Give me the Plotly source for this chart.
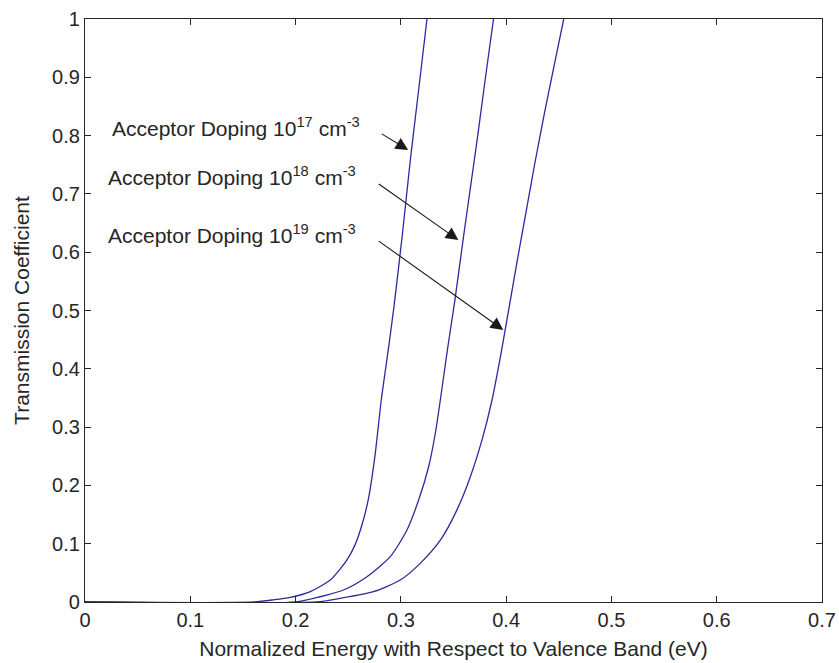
import plotly.graph_objects as go

# Data
x_1e17 = [0.00, 0.16, 0.18, 0.195, 0.2044, 0.2139, 0.2329, 0.2487, 0.2565, 0.2635, 0.2695, 0.2757, 0.2814, 0.288, 0.2937, 0.3014, 0.309, 0.317, 0.3248]
y_1e17 = [0.0, 0.0, 0.004, 0.008, 0.012, 0.0177, 0.0377, 0.072, 0.098, 0.135, 0.18, 0.255, 0.3465, 0.432, 0.51, 0.63, 0.758, 0.88, 1.0]

x_1e18 = [0.00, 0.20, 0.2234, 0.2455, 0.2678, 0.2899, 0.3058, 0.3169, 0.3264, 0.3327, 0.3375, 0.344, 0.3515, 0.359, 0.366, 0.373, 0.380, 0.388]
y_1e18 = [0.0, 0.0, 0.009, 0.0206, 0.0434, 0.0777, 0.1235, 0.175, 0.232, 0.289, 0.3465, 0.43, 0.52, 0.62, 0.71, 0.80, 0.895, 1.0]

x_1e19 = [0.00, 0.22, 0.2424, 0.274, 0.2994, 0.3184, 0.3375, 0.3533, 0.366, 0.3771, 0.3866, 0.3945, 0.4024, 0.410, 0.4185, 0.427, 0.436, 0.445, 0.4547]
y_1e19 = [0.0, 0.0, 0.0063, 0.0177, 0.0377, 0.0663, 0.106, 0.158, 0.215, 0.278, 0.3465, 0.42, 0.501, 0.58, 0.665, 0.75, 0.835, 0.915, 1.0]

labels = ["Acceptor Doping 10<sup>17</sup> cm<sup>-3</sup>",
          "Acceptor Doping 10<sup>18</sup> cm<sup>-3</sup>",
          "Acceptor Doping 10<sup>19</sup> cm<sup>-3</sup>"]
label_pos = [(0.024, 0.815), (0.020, 0.73), (0.020, 0.631)]
arrow_tail = [(0.2804, 0.8045), (0.2776, 0.7187), (0.2776, 0.6209)]
arrow_head = [(0.307, 0.7753), (0.3546, 0.6209), (0.3973, 0.4666)]

x_ticks = [0, 0.1, 0.2, 0.3, 0.4, 0.5, 0.6, 0.7]
x_ticktext = ["0", "0.1", "0.2", "0.3", "0.4", "0.5", "0.6", "0.7"]
y_ticks = [0, 0.1, 0.2, 0.3, 0.4, 0.5, 0.6, 0.7, 0.8, 0.9, 1]
y_ticktext = ["0", "0.1", "0.2", "0.3", "0.4", "0.5", "0.6", "0.7", "0.8", "0.9", "1"]

LINE = "#2b2b9e"
FONT = "Liberation Sans, Arial, sans-serif"
TXT = "#262626"

fig = go.Figure()
for xs, ys in [(x_1e17, y_1e17), (x_1e18, y_1e18), (x_1e19, y_1e19)]:
    fig.add_trace(go.Scatter(x=xs, y=ys, mode="lines",
                             line=dict(color=LINE, width=1.3, shape="spline", smoothing=0.7),
                             showlegend=False, hoverinfo="skip"))

annotations = []
for txt, (lx, ly) in zip(labels, label_pos):
    annotations.append(dict(x=lx, y=ly, xref="x", yref="y", text=txt, showarrow=False,
                            xanchor="left", yanchor="middle",
                            font=dict(family=FONT, size=21, color=TXT)))
for (tx, ty), (hx, hy) in zip(arrow_tail, arrow_head):
    annotations.append(dict(x=hx, y=hy, ax=tx, ay=ty, xref="x", yref="y", axref="x", ayref="y",
                            text="", showarrow=True, arrowhead=2, arrowsize=2.3, arrowwidth=1.1,
                            arrowcolor="#1a1a1a", standoff=0))

fig.update_layout(
    width=839, height=663,
    margin=dict(l=85, r=17, t=19, b=61),
    paper_bgcolor="white", plot_bgcolor="white",
    font=dict(family=FONT, size=20, color=TXT),
    annotations=annotations,
)
fig.update_xaxes(range=[0, 0.7], tickvals=x_ticks, ticktext=x_ticktext, automargin=False,
                 ticks="inside", ticklen=6, tickcolor=TXT, tickwidth=1,
                 tickfont=dict(family=FONT, size=20, color=TXT),
                 showline=True, linecolor=TXT, linewidth=1.2, mirror="ticks",
                 showgrid=False, zeroline=False,
                 title=dict(text="Normalized Energy with Respect to Valence Band (eV)",
                            font=dict(family=FONT, size=21, color=TXT), standoff=11))
fig.update_yaxes(range=[0, 1], tickvals=y_ticks, ticktext=y_ticktext, automargin=False,
                 ticks="inside", ticklen=6, tickcolor=TXT, tickwidth=1,
                 tickfont=dict(family=FONT, size=20, color=TXT),
                 showline=True, linecolor=TXT, linewidth=1.2, mirror="ticks",
                 showgrid=False, zeroline=False,
                 title=dict(text="Transmission Coefficient", font=dict(family=FONT, size=21, color=TXT), standoff=16))

fig.write_html("out.html")
